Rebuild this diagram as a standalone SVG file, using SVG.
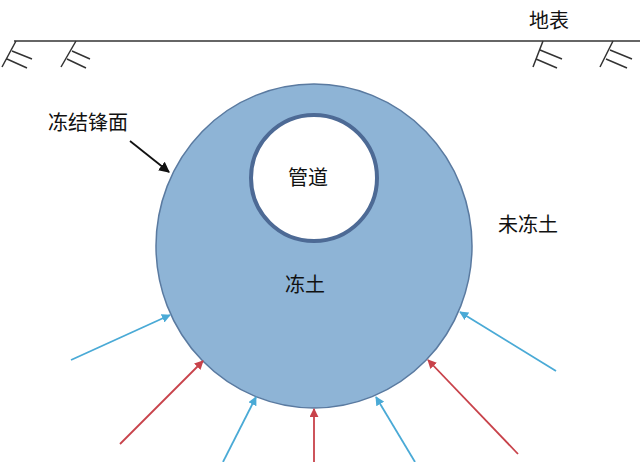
<svg xmlns="http://www.w3.org/2000/svg" width="640" height="462" viewBox="0 0 640 462">
<style>
text{font-family:"Noto Sans CJK SC","Noto Sans",sans-serif;font-size:20px;fill:#111}
.g{stroke:#333;stroke-width:1.5;fill:none}
.b{stroke:#4aaad6;stroke-width:1.8}
.r{stroke:#c8424a;stroke-width:1.8}
</style>
<defs>
<marker id="mb" viewBox="0 0 10 10" refX="9" refY="5" markerWidth="5" markerHeight="5" orient="auto"><path d="M0,0L10,5L0,10z" fill="#4aaad6"/></marker>
<marker id="mr" viewBox="0 0 10 10" refX="9" refY="5" markerWidth="5" markerHeight="5" orient="auto"><path d="M0,0L10,5L0,10z" fill="#c8424a"/></marker>
<marker id="mk" viewBox="0 0 10 10" refX="9" refY="5" markerWidth="6" markerHeight="6" orient="auto"><path d="M0,0L10,5L0,10z" fill="#111"/></marker>
</defs>
<g id="ground">
<line class="g" x1="14" y1="41" x2="640" y2="41"/>
<path class="g" d="M16,41L2,67M12,51L32,59M7,59L27,68"/>
<path class="g" d="M76,41L61,67M72,51L90,59M67,59L86,68"/>
<path class="g" d="M543,41L533,67M540,50L562,59M536,59L557,68"/>
<path class="g" d="M613,41L600,67M610,50L632,59M606,59L627,68"/>
<text x="529" y="28">地表</text>
</g>
<g id="frozen">
<ellipse cx="314" cy="246" rx="158" ry="162" fill="#8eb4d6" stroke="#5a7aa0" stroke-width="1.5"/>
<text x="285" y="292">冻土</text>
</g>
<g id="pipe">
<circle cx="314" cy="178" r="63" fill="#fff" stroke="#4d6a95" stroke-width="4"/>
<text x="288" y="185">管道</text>
</g>
<g id="labels">
<text x="48" y="130">冻结锋面</text>
<text x="498" y="232">未冻土</text>
</g>
<g id="connectors">
<line x1="130" y1="141" x2="169" y2="172" stroke="#111" stroke-width="1.8" marker-end="url(#mk)"/>
<line class="b" x1="71" y1="360" x2="170" y2="315" marker-end="url(#mb)"/>
<line class="r" x1="120" y1="444" x2="203" y2="361" marker-end="url(#mr)"/>
<line class="b" x1="223" y1="462" x2="256" y2="397" marker-end="url(#mb)"/>
<line class="r" x1="314" y1="462" x2="314" y2="409" marker-end="url(#mr)"/>
<line class="b" x1="415" y1="462" x2="376" y2="397" marker-end="url(#mb)"/>
<line class="r" x1="518" y1="454" x2="428" y2="360" marker-end="url(#mr)"/>
<line class="b" x1="556" y1="371" x2="460" y2="312" marker-end="url(#mb)"/>
</g>
</svg>
